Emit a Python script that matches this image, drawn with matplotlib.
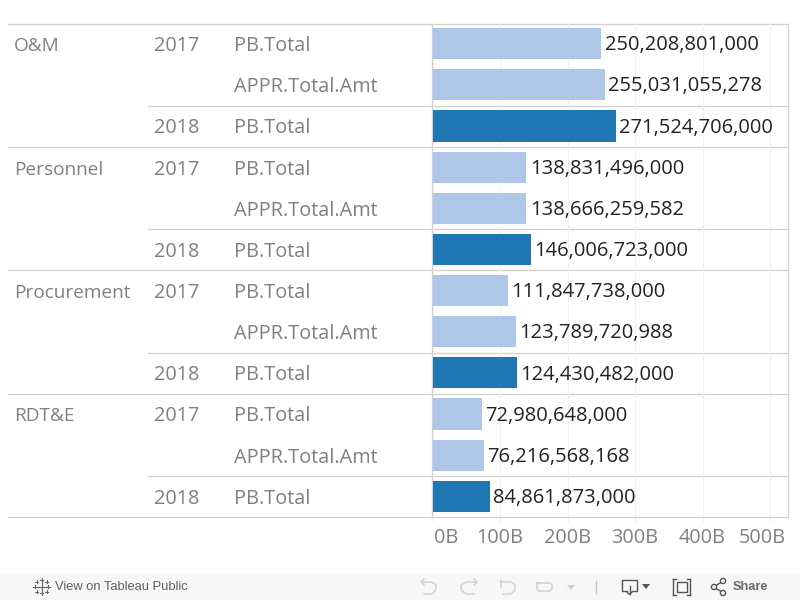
import matplotlib
matplotlib.use('Agg')
import matplotlib.pyplot as plt
from matplotlib.patches import Rectangle, Circle

# data
groups = ['O&M', 'Personnel', 'Procurement', 'RDT&E']
years = ['2017', '2017', '2018']
measures = ['PB.Total', 'APPR.Total.Amt', 'PB.Total']
values = [250208801000, 255031055278, 271524706000,
          138831496000, 138666259582, 146006723000,
          111847738000, 123789720988, 124430482000,
          72980648000, 76216568168, 84861873000]
ticks = [0, 100e9, 200e9, 300e9, 400e9, 500e9]
tick_labels = ['0B', '100B', '200B', '300B', '400B', '500B']

LIGHT = '#aec7e8'
DARK = '#1f77b4'
LINE = '#d0d0d0'
GREY = '#808080'
FONT = 'Open Sans'
W, H = 800, 600

plt.rcParams['font.family'] = FONT

fig = plt.figure(figsize=(8, 6), dpi=100)

# overlay in pixel coords for the table part and toolbar
bg = fig.add_axes([0, 0, 1, 1])
bg.set_xlim(0, W)
bg.set_ylim(H, 0)
bg.axis('off')

top = 23.5
row_h = 41.15
n = len(values)
ax_l, ax_r = 432.7, 787.5
bottom = top + row_h * n
xmax = 526e9

ax_top = top - 0.4
ax = fig.add_axes([ax_l / W, 1 - (ax_top + row_h * n) / H, (ax_r - ax_l) / W, row_h * n / H])
ax.patch.set_alpha(0)
ys = list(range(n))
colors = [DARK if i % 3 == 2 else LIGHT for i in ys]
ax.barh(ys, values, height=0.755, color=colors, zorder=3)
ax.set_ylim(n - 0.5, -0.5)
ax.set_xlim(0, xmax)
ax.set_xticks(ticks)
ax.set_xticklabels([])
ax.tick_params(axis='x', length=0)
ax.set_yticks([])
ax.grid(axis='x', color='#f0f0f0', lw=0.8, zorder=0)
for s in ['top', 'right', 'left', 'bottom']:
    ax.spines[s].set_visible(False)

for i, v in enumerate(values):
    ax.annotate(format(v, ','), (v, i), xytext=(2.5, -1.2), textcoords='offset points',
                va='center', ha='left', fontsize=14.5, color='#222222', zorder=4)

# grid tails and axis labels below the plot
for t, lab in zip(ticks, tick_labels):
    px = ax_l + t / xmax * (ax_r - ax_l)
    bg.plot([px, px], [bottom, bottom + 4], color='#f0f0f0', lw=0.8)
    if lab == '0B':
        bg.text(px + 1, 538, lab, color=GREY, fontsize=14.3, ha='left', va='center')
    elif lab == '500B':
        bg.text(785.5, 538, lab, color=GREY, fontsize=14.3, ha='right', va='center')
    else:
        bg.text(px, 538, lab, color=GREY, fontsize=14.3, ha='center', va='center')

# table lines
bg.plot([8, ax_r], [top, top], color=LINE, lw=0.9)
bg.plot([ax_r, ax_r], [top, bottom], color=LINE, lw=0.9)
bg.plot([ax_l - 0.3, ax_l - 0.3], [top, bottom], color=LINE, lw=0.9)

for g, name in enumerate(groups):
    y0 = top + g * 3 * row_h
    bg.plot([8, ax_r], [y0 + 3 * row_h] * 2, color=LINE, lw=0.9)
    bg.plot([148, ax_r], [y0 + 2 * row_h] * 2, color=LINE, lw=0.9)
    bg.text(14, y0 + row_h / 2 + 2, name, color=GREY, fontsize=13.7, va='center')
    bg.text(154, y0 + row_h / 2 + 2, years[0], color=GREY, fontsize=14.3, va='center')
    bg.text(154, y0 + 2.5 * row_h + 2, years[2], color=GREY, fontsize=14.3, va='center')
    for k, m in enumerate(measures):
        bg.text(234.5, y0 + (k + 0.5) * row_h + 2, m, color=GREY, fontsize=14.3, va='center')

# toolbar
bg.add_patch(Rectangle((0, 573), W, 27, color='#f7f7f7', lw=0))
bg.text(55, 587, 'View on Tableau Public', color='#5f5f5f', fontsize=9.3, va='center',
        family='Liberation Sans', weight='normal')
bg.text(733, 587, 'Share', color='#6a6a6a', fontsize=9.2, va='center',
        family='Liberation Sans', weight='bold')

# tableau logo
for cx, cy, r in [(41.5, 586.5, 4.5), (35, 586.5, 1.8), (48, 586.5, 1.8), (41.5, 580, 1.8), (41.5, 593, 1.8),
                  (36.5, 581.5, 1.3), (46.5, 581.5, 1.3), (36.5, 591.5, 1.3), (46.5, 591.5, 1.3)]:
    bg.plot([cx - r, cx + r], [cy, cy], color='#666666', lw=0.8)
    bg.plot([cx, cx], [cy - r, cy + r], color='#666666', lw=0.8)

# disabled undo / redo / revert / refresh icons
pale = '#d0d0d0'
bg.plot([422, 432, 436, 436, 432, 424], [582, 582, 585, 590, 594, 594], color=pale, lw=1.1)
bg.plot([424, 421, 424], [579, 582, 585], color=pale, lw=1.1)
bg.plot([476, 466, 461, 461, 466, 474], [582, 582, 585, 590, 594, 594], color=pale, lw=1.1)
bg.plot([474, 477, 474], [579, 582, 585], color=pale, lw=1.1)
bg.plot([501, 511, 515, 515, 511, 503], [582, 582, 585, 590, 594, 594], color=pale, lw=1.1)
bg.plot([501, 501], [580, 587], color=pale, lw=1.1)
bg.plot([537, 550, 552, 552, 550, 539, 537, 537], [583, 583, 585, 589, 591, 591, 589, 583], color=pale, lw=1.1)
bg.fill([567, 575, 571], [585, 585, 590], color=pale, lw=0)
bg.plot([595.5, 595.5], [581, 593], color='#c0c0c0', lw=1)

# download icon
dk = '#555555'
bg.plot([627, 622, 622, 637, 637, 632], [591, 591, 580, 580, 591, 591], color=dk, lw=1)
bg.plot([629.5, 629.5], [586, 594], color=dk, lw=1)
bg.plot([627, 629.5, 632], [592, 594.5, 592], color=dk, lw=1)
bg.fill([642, 650, 646], [584, 584, 589], color=dk, lw=0)

# fullscreen icon
bg.add_patch(Rectangle((677, 582), 10, 10, fill=False, ec=dk, lw=1))
for x1, x2, y1, y2 in [(673, 673, 579, 595), (673, 676, 579, 579), (673, 676, 595, 595),
                       (690, 690, 579, 595), (687, 690, 579, 579), (687, 690, 595, 595)]:
    bg.plot([x1, x2], [y1, y2], color=dk, lw=1)

# share icon
bg.plot([724, 713, 724], [581, 587, 593], color=dk, lw=1)
for cx, cy in [(723, 581), (714, 587), (723, 593)]:
    bg.add_patch(Circle((cx, cy), 2.6, fc='#f7f7f7', ec=dk, lw=1, zorder=3))

bg.set_xlim(0, W)
bg.set_ylim(H, 0)

fig.savefig('out.png', dpi=100)
